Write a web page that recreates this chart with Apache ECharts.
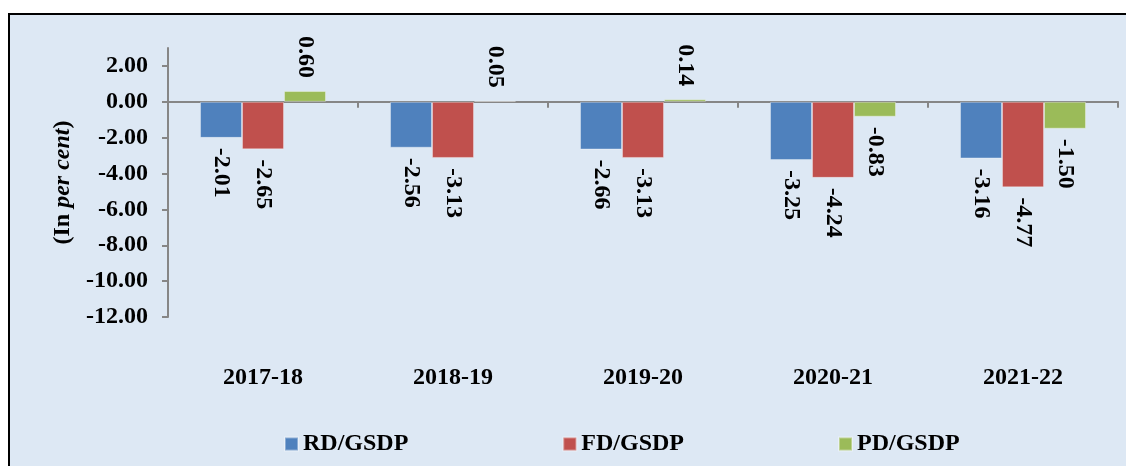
<!DOCTYPE html>
<html>
<head>
<meta charset="utf-8">
<script src="https://cdn.jsdelivr.net/npm/echarts@6/dist/echarts.min.js"></script>
<style>
html,body{margin:0;padding:0;background:#fff;}
#c{width:1126px;height:466px;}
</style>
</head>
<body>
<div id="c"></div>
<script>
const categories = ['2017-18', '2018-19', '2019-20', '2020-21', '2021-22'];
const rdGsdp = [-2.01, -2.56, -2.66, -3.25, -3.16];
const fdGsdp = [-2.65, -3.13, -3.13, -4.24, -4.77];
const pdGsdp = [0.60, 0.05, 0.14, -0.83, -1.50];
const seriesNames = ['RD/GSDP', 'FD/GSDP', 'PD/GSDP'];
const yTicks = [-12, -10, -8, -6, -4, -2, 0, 2];

const FONT = '"Liberation Serif", "Times New Roman", serif';
const colors = ['#4F81BD', '#C0504D', '#9BBB59'];

function items(arr) {
  return arr.map(v => ({
    value: v,
    label: v < 0
      ? { position: 'bottom', align: 'left', verticalAlign: 'middle', distance: 10 }
      : { position: 'top', align: 'right', verticalAlign: 'middle', distance: 13 }
  }));
}

const labelStyle = { fontFamily: FONT, fontWeight: 'bold', fontSize: 24, color: '#000' };

function mkSeries(name, arr, color) {
  return {
    name: name,
    type: 'bar',
    data: items(arr),
    barGap: 0,
    barCategoryGap: '33.7%',
    itemStyle: { color: color, borderColor: 'rgba(255,255,255,0.35)', borderWidth: 1 },
    label: Object.assign({
      show: true,
      rotate: -90,
      formatter: p => p.value.toFixed(2)
    }, labelStyle)
  };
}

const chart = echarts.init(document.getElementById('c'), null, { renderer: 'canvas' });
chart.setOption({
  animation: false,
  graphic: [{
    type: 'rect',
    z: -100,
    silent: true,
    shape: { x: 9, y: 14, width: 1130, height: 470 },
    style: { fill: '#dde8f4', stroke: '#000', lineWidth: 2 }
  }],
  grid: { left: 168, right: 8, top: 48, bottom: 149, outerBoundsMode: 'none', containLabel: false },
  legend: {
    left: 284,
    top: 432,
    padding: 0,
    itemWidth: 13,
    itemHeight: 13,
    itemGap: 154,
    icon: 'rect',
    data: seriesNames,
    textStyle: labelStyle
  },
  xAxis: [{
    type: 'category',
    data: categories,
    axisLine: { onZero: true, lineStyle: { color: '#868686', width: 2 } },
    axisTick: { show: true, alignWithLabel: false, length: 6, lineStyle: { color: '#868686', width: 2 } },
    axisLabel: { show: false },
    splitLine: { show: false }
  }, {
    type: 'category',
    data: categories,
    position: 'bottom',
    axisLine: { show: false, onZero: false },
    axisTick: { show: false },
    axisLabel: Object.assign({ margin: 49, interval: 0 }, labelStyle),
    splitLine: { show: false }
  }],
  yAxis: {
    type: 'value',
    min: -12,
    max: 3,
    interval: 1,
    name: '{n|(In }{i|per cent}{n|)}',
    nameLocation: 'middle',
    nameGap: 91,
    nameRotate: 90,
    nameTextStyle: {
      rich: {
        n: labelStyle,
        i: Object.assign({ fontStyle: 'italic' }, labelStyle)
      }
    },
    axisLine: { show: true, lineStyle: { color: '#868686', width: 2 } },
    axisTick: { show: true, length: 6, customValues: yTicks, lineStyle: { color: '#868686', width: 2 } },
    axisLabel: Object.assign({
      customValues: yTicks,
      hideOverlap: false,
      margin: 20,
      formatter: v => v.toFixed(2)
    }, labelStyle),
    splitLine: { show: false }
  },
  series: [
    mkSeries(seriesNames[0], rdGsdp, colors[0]),
    mkSeries(seriesNames[1], fdGsdp, colors[1]),
    mkSeries(seriesNames[2], pdGsdp, colors[2])
  ]
});
</script>
</body>
</html>
